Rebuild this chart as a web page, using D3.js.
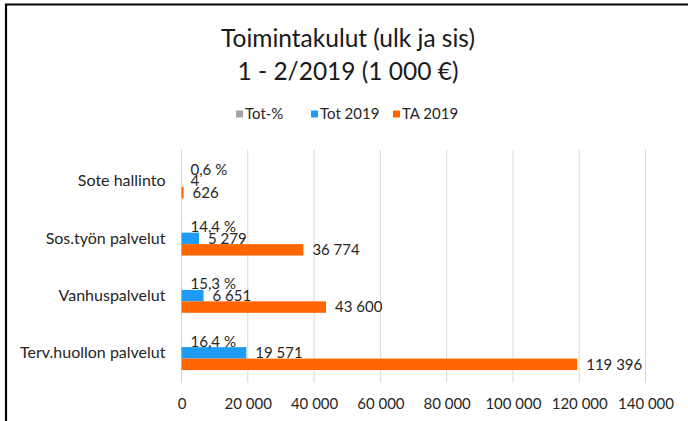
<!DOCTYPE html>
<html>
<head>
    <meta charset="utf-8">
    <title>Toimintakulut</title>
    <script src="https://d3js.org/d3.v7.min.js"></script>
    <style>
        body {
            margin: 0;
            background-color: white;
        }
        text {
            font-family: Lato, "Open Sans", sans-serif;
        }
    </style>
</head>
<body>
    <script>
        // Data
        const categories = ["Sote hallinto", "Sos.työn palvelut", "Vanhuspalvelut", "Terv.huollon palvelut"];
        const totPct = [0.6, 14.4, 15.3, 16.4];
        const tot2019 = [4, 5279, 6651, 19571];
        const ta2019 = [626, 36774, 43600, 119396];
        const xTicks = [0, 20000, 40000, 60000, 80000, 100000, 120000, 140000];
        const seriesNames = ["Tot-%", "Tot 2019", "TA 2019"];
        const seriesColors = ["#a5a5a5", "#1e9cf5", "#ff6600"];

        const width = 688, height = 421;
        const plot = {left: 181.5, right: 645.5, top: 152.5, bottom: 381.5};

        const fi = d3.formatLocale({decimal: ",", thousands: "\u00a0", grouping: [3], currency: ["", "\u00a0€"]});
        const fmtNum = fi.format(",d");
        const fmtPct = v => fi.format(".1f")(v) + "\u00a0%";

        const data = categories.map((c, i) => ({
            cat: c,
            values: [
                {key: 0, v: totPct[i], label: fmtPct(totPct[i])},
                {key: 1, v: tot2019[i], label: fmtNum(tot2019[i])},
                {key: 2, v: ta2019[i], label: fmtNum(ta2019[i])}
            ]
        }));

        const svg = d3.select("body").append("svg")
            .attr("width", width)
            .attr("height", height);

        // Frame (only left and top edges visible in the crop)
        svg.append("path")
            .attr("d", `M6,${height} L6,4.5 L${width},4.5`)
            .attr("fill", "none")
            .attr("stroke", "#000")
            .attr("stroke-width", 2.2);

        // Title
        const title = svg.append("text")
            .attr("text-anchor", "middle")
            .style("font-size", "24.5px")
            .style("fill", "#1a1a1a");
        title.append("tspan").attr("x", 348).attr("y", 47).text("Toimintakulut (ulk ja sis)");
        title.append("tspan").attr("x", 348).attr("y", 80).text("1 - 2/2019 (1\u00a0000 €)");

        // Scales
        const x = d3.scaleLinear().domain([0, 140000]).range([plot.left, plot.right]);
        const y = d3.scaleBand().domain(categories).range([plot.top, plot.bottom])
            .paddingInner(0.4).paddingOuter(0.2);
        const ySub = d3.scaleBand().domain([0, 1, 2]).range([0, y.bandwidth()]);

        // Gridlines
        svg.append("g")
            .selectAll("line")
            .data(xTicks)
            .join("line")
            .attr("x1", d => x(d)).attr("x2", d => x(d))
            .attr("y1", plot.top - 3).attr("y2", plot.bottom + 1)
            .attr("stroke", "#d9d9d9")
            .attr("stroke-width", 1);

        // X axis labels
        const xAxis = svg.append("g")
            .attr("transform", `translate(0,${plot.bottom})`)
            .call(d3.axisBottom(x).tickValues(xTicks).tickFormat(fmtNum).tickSize(0).tickPadding(17));
        xAxis.select(".domain").remove();
        xAxis.selectAll("text")
            .style("font-family", "Lato, sans-serif")
            .style("font-size", "15px")
            .style("fill", "#262626");

        // Category labels
        const yAxis = svg.append("g")
            .attr("transform", `translate(${plot.left},0)`)
            .call(d3.axisLeft(y).tickSize(0).tickPadding(16));
        yAxis.select(".domain").remove();
        yAxis.selectAll("text")
            .style("font-family", "Lato, sans-serif")
            .style("font-size", "16px")
            .style("fill", "#262626");

        // Bars
        const groups = svg.append("g")
            .selectAll("g")
            .data(data)
            .join("g")
            .attr("transform", d => `translate(0,${y(d.cat)})`);

        groups.selectAll("rect")
            .data(d => d.values)
            .join("rect")
            .attr("x", x(0))
            .attr("y", d => ySub(d.key))
            .attr("width", d => Math.max(0, x(d.v) - x(0)))
            .attr("height", ySub.bandwidth())
            .attr("fill", d => seriesColors[d.key]);

        // Data labels
        groups.selectAll("text.lbl")
            .data(d => d.values)
            .join("text")
            .attr("class", "lbl")
            .attr("x", d => x(d.v) + 9)
            .attr("y", d => ySub(d.key) + ySub.bandwidth() / 2)
            .attr("dy", "0.35em")
            .style("font-size", "15px")
            .style("fill", "#262626")
            .text(d => d.label);

        // Legend
        const legendX = [236, 311, 393];
        const legend = svg.append("g")
            .selectAll("g")
            .data(seriesNames)
            .join("g")
            .attr("transform", (d, i) => `translate(${legendX[i]},114)`);
        legend.append("rect")
            .attr("x", 0).attr("y", -3.5)
            .attr("width", 7).attr("height", 7)
            .attr("fill", (d, i) => seriesColors[i]);
        legend.append("text")
            .attr("x", 9)
            .attr("y", 0)
            .attr("dy", "0.35em")
            .style("font-size", "15px")
            .style("fill", "#262626")
            .text(d => d);
    </script>
</body>
</html>
